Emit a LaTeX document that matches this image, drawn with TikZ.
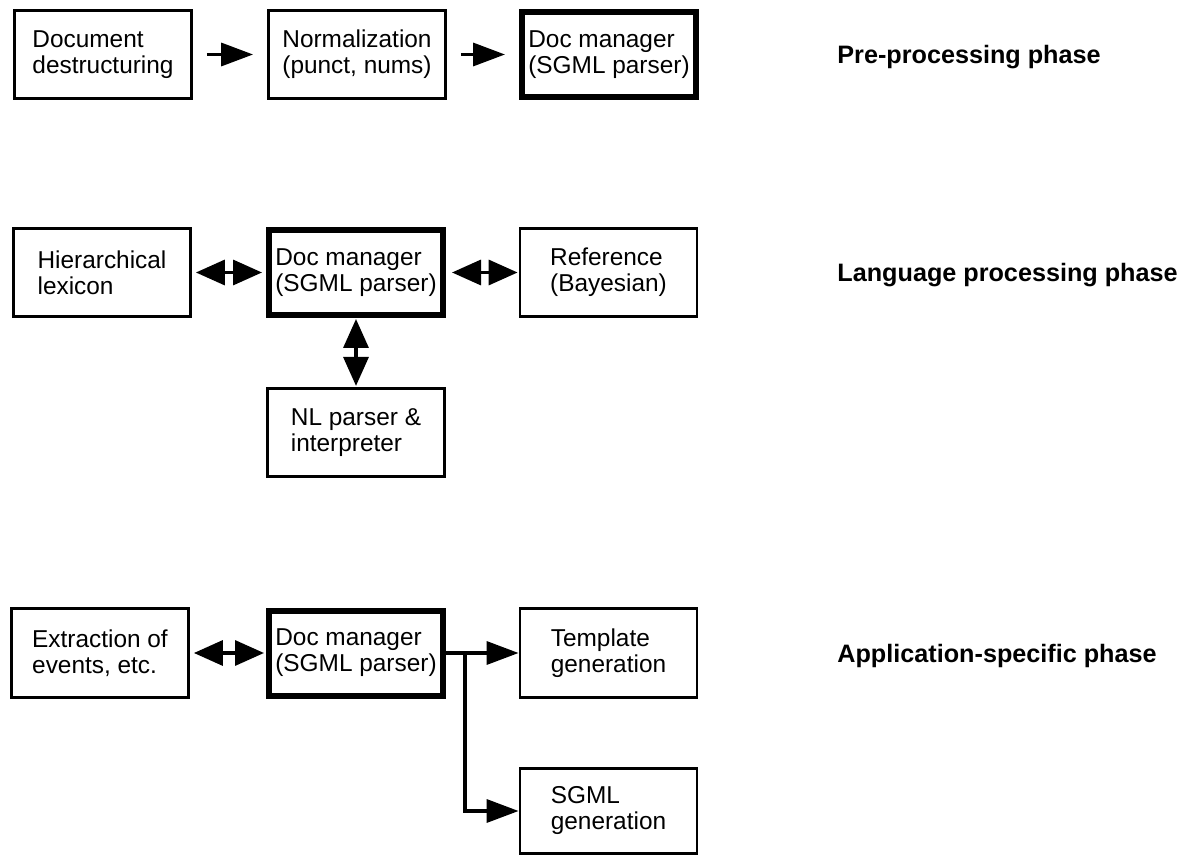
\documentclass[tikz,border=0pt]{standalone}
\usepackage{fontspec}
\setmainfont{Liberation Sans}
\usetikzlibrary{arrows.meta}
\begin{document}
\begin{tikzpicture}[x=0.5pt,y=-0.5pt,
  box/.style={draw, line width=1.4pt, minimum width=88.5pt, minimum height=44.2pt,
    inner sep=0pt, align=left, font=\fontsize{12.2}{13}\selectfont},
  mgr/.style={box, line width=3pt, minimum width=87pt, minimum height=42.5pt},
  phase/.style={anchor=base west, inner sep=0pt, font=\fontsize{12.6}{15}\selectfont\bfseries},
  conn/.style={line width=1.7pt},
  onearrow/.style={conn, -{Triangle[length=16pt,width=11.5pt]}},
  twoarrow/.style={conn, {Triangle[length=14.5pt,width=12.5pt]}-{Triangle[length=14.5pt,width=12.5pt]}},
]
\useasboundingbox (0,0) rectangle (1191,856);
\fill[white] (0,0) rectangle (1191,856);

% Row 1
\node[box] (dd)   at (103,54.5)   {Document\\destructuring};
\node[box] (norm) at (357,54.5)   {Normalization\\(punct, nums)};
\node[mgr] (dm1)  at (609,54.5)   {Doc manager\\(SGML parser)};

% Row 2
\node[box] (hl)  at (102,272.5)   {Hierarchical\\lexicon};
\node[mgr] (dm2) at (356,272.5)   {Doc manager\\(SGML parser)};
\node[box] (ref) at (608.5,272.5) {Reference\\(Bayesian)};
\node[box] (nl)  at (356,432.5)   {NL parser \&\\interpreter};

% Row 3
\node[box] (ex)  at (100,653)   {Extraction of\\events, etc.};
\node[mgr] (dm3) at (356,653)   {Doc manager\\(SGML parser)};
\node[box] (tpl) at (608.5,653) {Template\\generation};
\node[box, minimum height=42.7pt] (sg) at (608.5,811) {SGML\\generation};
\coordinate (br) at (465,653);

% Connectors
\draw[onearrow, shorten <=7pt, shorten >=7pt] (dd) -- (norm);
\draw[onearrow, shorten <=7pt, shorten >=7pt] (norm) -- (dm1);

\draw[twoarrow, shorten <=2pt, shorten >=2pt] (hl) -- (dm2);
\draw[twoarrow, shorten <=3pt, shorten >=0.5pt] (dm2) -- (ref);
\draw[twoarrow, shorten <=0.5pt, shorten >=0.5pt] (dm2) -- (nl);

\draw[twoarrow, shorten <=2pt, shorten >=1pt] (ex) -- (dm3);
\draw[onearrow] (dm3) -- (tpl);
\draw[onearrow] (br) |- (sg.west);

% Phase labels
\node[phase] (p1) at (837,63.5) {Pre-processing phase};
\node[phase] (p2) at (837,281.5) {Language processing phase};
\node[phase] (p3) at (837,662) {Application-specific phase};
\end{tikzpicture}
\end{document}
